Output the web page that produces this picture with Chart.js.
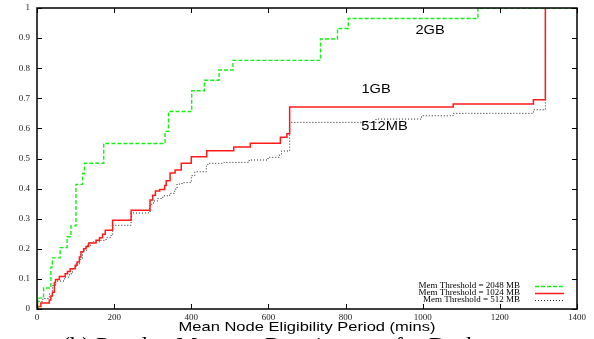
<!DOCTYPE html>
<html>
<head>
<meta charset="utf-8">
<script src="https://cdn.jsdelivr.net/npm/chart.js@4.4.1/dist/chart.umd.min.js"></script>
<style>
  body { margin: 0; background: #fff; }
  #wrap { width: 594px; height: 339px; position: relative; }
</style>
</head>
<body>
<div id="wrap"><canvas id="cdf"></canvas></div>
<script>
// CDF steps: period (mins) where the step happens and the fraction reached after it
const mins2048 = [0, 2, 17, 36, 40, 60, 78, 88, 101, 118, 123, 173, 332, 341, 401, 434, 472, 508, 735, 779, 807, 1143, 1400];
const cdf2048  = [0, 0.036, 0.07, 0.14, 0.17, 0.204, 0.24, 0.276, 0.414, 0.45, 0.484, 0.55, 0.59, 0.656, 0.725, 0.76, 0.794, 0.826, 0.897, 0.932, 0.965, 1, 1];

const mins1024 = [0, 2, 10, 32, 36, 40, 45, 48, 58, 73, 79, 86, 99, 104, 110, 114, 121, 127, 134, 153, 162, 170, 177, 196, 244, 293, 300, 307, 318, 331, 335, 345, 358, 374, 400, 440, 510, 553, 631, 648, 655, 1079, 1287, 1318];
const cdf1024  = [0, 0.008, 0.02, 0.03, 0.043, 0.056, 0.087, 0.098, 0.108, 0.117, 0.125, 0.134, 0.145, 0.156, 0.173, 0.19, 0.2, 0.208, 0.219, 0.228, 0.237, 0.248, 0.262, 0.295, 0.328, 0.362, 0.378, 0.392, 0.397, 0.41, 0.426, 0.452, 0.462, 0.484, 0.506, 0.526, 0.538, 0.551, 0.571, 0.582, 0.671, 0.681, 0.695, 1];

const mins512 = [0, 1, 15, 32, 40, 48, 71, 84, 92, 101, 110, 118, 129, 140, 162, 179, 192, 196, 244, 293, 302, 313, 326, 344, 357, 363, 376, 400, 409, 439, 443, 485, 550, 599, 629, 634, 655, 879, 997, 1079, 1287, 1318];
const cdf512  = [0, 0.025, 0.035, 0.05, 0.078, 0.093, 0.106, 0.117, 0.134, 0.15, 0.165, 0.195, 0.212, 0.223, 0.228, 0.237, 0.245, 0.278, 0.319, 0.348, 0.359, 0.367, 0.376, 0.384, 0.398, 0.415, 0.42, 0.443, 0.456, 0.475, 0.484, 0.487, 0.495, 0.504, 0.515, 0.525, 0.62, 0.631, 0.642, 0.65, 0.662, 1];

const legendNames = ['Mem Threshold = 2048 MB', 'Mem Threshold = 1024 MB', 'Mem Threshold = 512 MB'];
const curveNames = ['2GB', '1GB', '512MB'];
const xTicks = [0, 200, 400, 600, 800, 1000, 1200, 1400];
const yTicks = [0, 0.1, 0.2, 0.3, 0.4, 0.5, 0.6, 0.7, 0.8, 0.9, 1];
const xTitle = 'Mean Node Eligibility Period (mins)';
const caption = '(b) Per-day Memory Requirement for Desktops';

const pts = (xs, ys) => xs.map((x, i) => ({ x: x, y: ys[i] }));

const SANS = '"Liberation Sans", Arial, sans-serif';
const SERIF = '"Liberation Serif", "Times New Roman", serif';

// wide sans text, the way the postscript terminal renders Helvetica
function wideText(ctx, str, cx, cy, size, stretch) {
    ctx.save();
    ctx.font = size + 'px ' + SANS;
    ctx.textAlign = 'center';
    ctx.textBaseline = 'middle';
    ctx.translate(cx, cy);
    ctx.scale(stretch, 1);
    ctx.fillText(str, 0, 0);
    ctx.restore();
}

const gnuplotFrame = {
    id: 'gnuplotFrame',
    afterDraw(chart) {
        const ctx = chart.ctx;
        const a = chart.chartArea;
        const xs = chart.scales.x, ys = chart.scales.y;
        ctx.save();

        // border round the plot
        ctx.strokeStyle = '#000';
        ctx.lineWidth = 1.5;
        ctx.strokeRect(a.left, a.top, a.right - a.left, a.bottom - a.top);

        // inward ticks on all four sides
        ctx.lineWidth = 1;
        ctx.beginPath();
        xTicks.forEach(v => {
            const px = Math.round(xs.getPixelForValue(v)) + 0.5;
            ctx.moveTo(px, a.bottom); ctx.lineTo(px, a.bottom - 5);
            ctx.moveTo(px, a.top); ctx.lineTo(px, a.top + 5);
        });
        yTicks.forEach(v => {
            const py = Math.round(ys.getPixelForValue(v)) + 0.5;
            ctx.moveTo(a.left, py); ctx.lineTo(a.left + 5, py);
            ctx.moveTo(a.right, py); ctx.lineTo(a.right - 5, py);
        });
        ctx.stroke();

        // tick labels
        ctx.fillStyle = '#222';
        ctx.font = '9px ' + SERIF;
        ctx.textAlign = 'center';
        ctx.textBaseline = 'middle';
        xTicks.forEach(v => ctx.fillText(String(v), xs.getPixelForValue(v), a.bottom + 9));
        ctx.textAlign = 'right';
        yTicks.forEach(v => ctx.fillText(String(v), a.left - 7, ys.getPixelForValue(v)));

        // axis title and the cut-off caption underneath
        ctx.fillStyle = '#000';
        wideText(ctx, xTitle, (a.left + a.right) / 2, a.bottom + 18, 13, 1.27);
        ctx.font = '24px ' + SERIF;
        ctx.textAlign = 'left';
        ctx.textBaseline = 'alphabetic';
        ctx.fillText(caption, 62, a.bottom + 44);

        // curve names
        const namePos = [[1019, 0.925], [879, 0.728], [901, 0.605]];
        curveNames.forEach((n, i) => {
            wideText(ctx, n, xs.getPixelForValue(namePos[i][0]), ys.getPixelForValue(namePos[i][1]), 12, 1.22);
        });

        // legend, bottom right inside the plot
        ctx.font = '9px ' + SERIF;
        ctx.textAlign = 'right';
        ctx.textBaseline = 'middle';
        chart.data.datasets.forEach((ds, i) => {
            const y = a.bottom - 23 + i * 7;
            ctx.fillStyle = '#000';
            ctx.fillText(legendNames[i], a.right - 57, y);
            ctx.strokeStyle = ds.borderColor;
            ctx.lineWidth = ds.borderWidth;
            ctx.setLineDash(ds.borderDash || []);
            ctx.beginPath();
            ctx.moveTo(a.right - 42, y + 0.5);
            ctx.lineTo(a.right - 13, y + 0.5);
            ctx.stroke();
        });
        ctx.setLineDash([]);
        ctx.restore();
    }
};

new Chart(document.getElementById('cdf'), {
    type: 'line',
    data: {
        datasets: [
            { label: legendNames[0], data: pts(mins2048, cdf2048), borderColor: '#14f014', borderWidth: 1.4, borderDash: [4, 2] },
            { label: legendNames[1], data: pts(mins1024, cdf1024), borderColor: '#ff1a1a', borderWidth: 1.5 },
            { label: legendNames[2], data: pts(mins512, cdf512), borderColor: '#222', borderWidth: 1, borderDash: [1, 2] }
        ]
    },
    options: {
        responsive: true,
        maintainAspectRatio: false,
        animation: false,
        layout: { padding: { left: 37, right: 17, top: 8, bottom: 30 } },
        elements: {
            line: { stepped: 'before', fill: false, tension: 0 },
            point: { radius: 0 }
        },
        plugins: { legend: { display: false }, tooltip: { enabled: false } },
        scales: {
            x: {
                type: 'linear', min: 0, max: 1400,
                grid: { display: false, drawTicks: false },
                border: { display: false },
                ticks: { display: false, stepSize: 200 }
            },
            y: {
                min: 0, max: 1,
                grid: { display: false, drawTicks: false },
                border: { display: false },
                ticks: { display: false, stepSize: 0.1 }
            }
        }
    },
    plugins: [gnuplotFrame]
});
</script>
</body>
</html>
